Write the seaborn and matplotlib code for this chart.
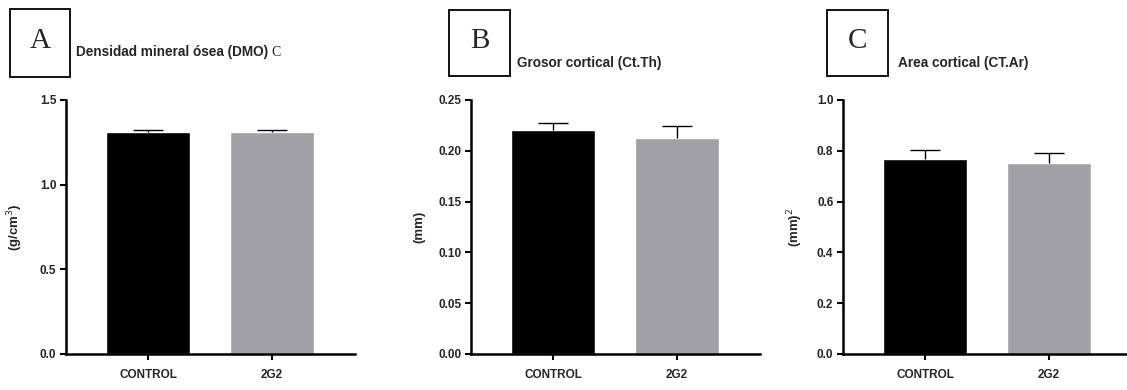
import matplotlib
matplotlib.use("Agg")
import seaborn as sns
import matplotlib.pyplot as plt
import pandas as pd
from matplotlib.patches import Rectangle

# Data
groups = ["CONTROL", "2G2"]
dmo_mean = [1.311, 1.313]
dmo_err = [0.012, 0.010]
ctth_mean = [0.2202, 0.2126]
ctth_err = [0.0075, 0.0118]
ctar_mean = [0.767, 0.751]
ctar_err = [0.038, 0.042]

bar_colors = ["#000000", "#a1a1a5"]

sns.set_theme(style="ticks")
plt.rcParams["font.family"] = ["Liberation Sans", "DejaVu Sans"]

fig = plt.figure(figsize=(11.27, 3.9), dpi=100)

W, H = 1127, 390
panels = [
    dict(left=66, right=355, means=dmo_mean, errs=dmo_err, ylim=1.5,
         ticks=[0.0, 0.5, 1.0, 1.5], fmt="{:.1f}", ylabel="(g/cm$^{3}$)", labx=25,
         box=(10, 9, 70, 77), letter="A", title="Densidad mineral ósea (DMO)",
         tx=76, ty=52),
    dict(left=471, right=760, means=ctth_mean, errs=ctth_err, ylim=0.25,
         ticks=[0.0, 0.05, 0.10, 0.15, 0.20, 0.25], fmt="{:.2f}", ylabel="(mm)", labx=425,
         box=(449, 10, 510, 76), letter="B", title="Grosor cortical (Ct.Th)",
         tx=517, ty=63),
    dict(left=843, right=1127, means=ctar_mean, errs=ctar_err, ylim=1.0,
         ticks=[0.0, 0.2, 0.4, 0.6, 0.8, 1.0], fmt="{:.1f}", ylabel="(mm)$^{2}$", labx=805,
         box=(827, 10, 888, 76), letter="C", title="Area cortical (CT.Ar)",
         tx=898, ty=63),
]

top, bottom = 100, 354
titles = []
for p in panels:
    ax = fig.add_axes([p["left"] / W, 1 - bottom / H, (p["right"] - p["left"]) / W, (bottom - top) / H])
    df = pd.DataFrame({"group": groups, "value": p["means"]})
    sns.barplot(data=df, x="group", y="value", hue="group", palette=bar_colors,
                width=0.67, legend=False, ax=ax, saturation=1)
    eb = ax.errorbar(range(len(groups)), p["means"], yerr=[[0] * len(groups), p["errs"]],
                     fmt="none", ecolor="black", elinewidth=1.0, capsize=11, capthick=1.0)
    eb[1][0].set_visible(False)  # only the upper cap, like the reference
    # x positions: categories 124 px apart, axis starts 82 px left of first bar centre
    span = p["right"] - p["left"]
    ax.set_xlim(-82 / 124, -82 / 124 + span / 124)
    ax.set_ylim(0, p["ylim"])
    ax.set_yticks(p["ticks"])
    ax.set_yticklabels([p["fmt"].format(t) for t in p["ticks"]], fontsize=8.5, fontweight="bold")
    ax.set_xticks(range(len(groups)))
    ax.set_xticklabels(groups, fontsize=8.5, fontweight="bold")
    ax.set_xlabel("")
    ax.set_ylabel(p["ylabel"], fontsize=9.5, fontweight="bold")
    ax.yaxis.set_label_coords((p["labx"] - p["left"]) / span, 0.5)
    ax.tick_params(axis="both", length=4, width=1.5, color="black", pad=3)
    ax.tick_params(axis="x", pad=7)
    for s in ["left", "bottom"]:
        ax.spines[s].set_linewidth(1.8)
        ax.spines[s].set_color("black")
    sns.despine(ax=ax)

    x0, y0, x1, y1 = p["box"]
    fig.patches.append(Rectangle((x0 / W, 1 - y1 / H), (x1 - x0) / W, (y1 - y0) / H,
                                 transform=fig.transFigure, fill=False, edgecolor="black",
                                 linewidth=1.3))
    fig.text((x0 + x1) / 2 / W, 1 - 41 / H, p["letter"], ha="center", va="center",
             fontsize=21, family="Liberation Serif")
    titles.append(fig.text(p["tx"] / W, 1 - p["ty"] / H, p["title"], ha="left", va="center",
                           fontsize=9.8, fontweight="bold"))

# stray serif "C" right after the first title
fig.text(0, 0, "")
ann = plt.annotate("C", xy=(1, 0.5), xycoords=titles[0], xytext=(2, 0),
                   textcoords="offset points", ha="left", va="center",
                   fontsize=10, family="Liberation Serif", annotation_clip=False)

fig.savefig("out.png", dpi=100)
